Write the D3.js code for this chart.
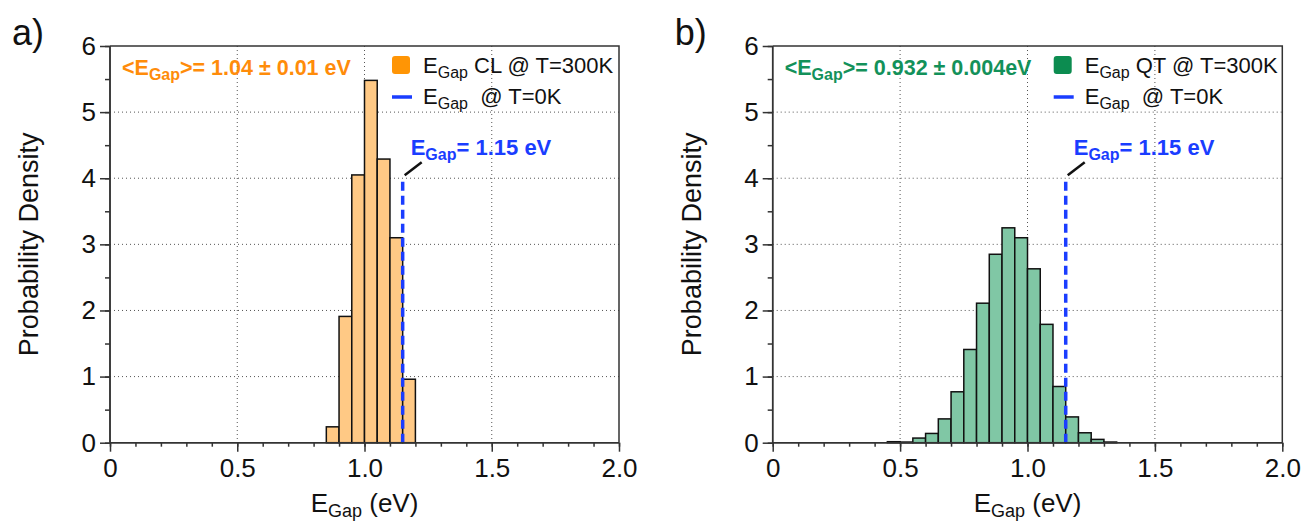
<!DOCTYPE html>
<html><head><meta charset="utf-8">
<script src="https://cdn.jsdelivr.net/npm/d3@7"></script>
<style>
body{margin:0;background:#fff;}
text{font-family:"Liberation Sans",Arial,sans-serif;}
</style></head>
<body><svg id="c" width="1304" height="523"></svg>
<script>
// ---- data ----
const binWidth = 0.05;
const clBins = [0.85, 0.90, 0.95, 1.00, 1.05, 1.10, 1.15];
const clDensity = [0.24, 1.91, 4.05, 5.48, 4.29, 3.10, 0.96];
const qtBins = [0.45, 0.50, 0.55, 0.60, 0.65, 0.70, 0.75, 0.80, 0.85, 0.90, 0.95, 1.00, 1.05, 1.10, 1.15, 1.20, 1.25, 1.30];
const qtDensity = [0.015, 0.01, 0.07, 0.14, 0.36, 0.77, 1.41, 2.11, 2.85, 3.25, 3.10, 2.63, 1.79, 0.85, 0.39, 0.15, 0.05, 0.01];
const gap0K = 1.15;
const gapLineTop = 4.0;
const xTicks = [0, 0.5, 1.0, 1.5, 2.0];
const xTickLabels = ["0", "0.5", "1.0", "1.5", "2.0"];
const yTicks = [0, 1, 2, 3, 4, 5, 6];
const yTickLabels = ["0", "1", "2", "3", "4", "5", "6"];
const panels = [
  {label:"a)", bins:clBins, dens:clDensity, fill:"#ffc985", key:"#ff9505", txt:"#ff8c0a",
   mean:">= 1.04 ± 0.01 eV", leg:" CL @ T=300K", x0:110, x1:619},
  {label:"b)", bins:qtBins, dens:qtDensity, fill:"#80c7a5", key:"#0c8c50", txt:"#13915a",
   mean:">= 0.932 ± 0.004eV", leg:" QT @ T=300K", x0:772.7, x1:1282.3}
];
const blue = "#1a3dff";

const svg = d3.select("#c");
const yTop = 46, yBot = 442.7;

panels.forEach((p, pi) => {
  const x = d3.scaleLinear().domain([0, 2]).range([p.x0, p.x1]);
  const y = d3.scaleLinear().domain([0, 6]).range([yBot, yTop]);
  const g = svg.append("g");

  // grid
  [0.5, 1.0, 1.5].forEach(v => g.append("line").attr("x1", x(v)).attr("x2", x(v)).attr("y1", yTop).attr("y2", yBot)
    .attr("stroke", "#555").attr("stroke-width", 1).attr("stroke-dasharray", "1,3"));
  [1, 2, 3, 4, 5].forEach(v => g.append("line").attr("x1", p.x0).attr("x2", p.x1).attr("y1", y(v)).attr("y2", y(v))
    .attr("stroke", "#555").attr("stroke-width", 1).attr("stroke-dasharray", "1,3"));

  // bars
  g.selectAll("rect.bar").data(p.bins.map((b, i) => ({b, d: p.dens[i]}))).join("rect")
    .attr("class", "bar")
    .attr("x", d => x(d.b)).attr("width", d => x(d.b + binWidth) - x(d.b))
    .attr("y", d => y(d.d)).attr("height", d => y(0) - y(d.d))
    .attr("fill", p.fill).attr("stroke", "#111").attr("stroke-width", 1.5);

  // dashed line at T=0K gap
  g.append("line").attr("x1", x(gap0K)).attr("x2", x(gap0K)).attr("y1", y(0)).attr("y2", y(gapLineTop))
    .attr("stroke", blue).attr("stroke-width", 3.5).attr("stroke-dasharray", "9,5");
  // leader line
  g.append("line").attr("x1", x(gap0K) + 2).attr("y1", y(gapLineTop) - 3).attr("x2", x(gap0K) + 19).attr("y2", y(gapLineTop) - 16)
    .attr("stroke", "#111").attr("stroke-width", 2.5);
  const t = g.append("text").attr("x", x(gap0K) + 8).attr("y", 155).attr("fill", blue)
    .attr("font-weight", "bold").attr("font-size", 22);
  t.append("tspan").text("E");
  t.append("tspan").attr("font-size", 16).attr("dy", 5).text("Gap");
  t.append("tspan").attr("dy", -5).text("= 1.15 eV");

  // axes
  const xAxis = d3.axisBottom(x).tickValues(xTicks).tickFormat((d, i) => xTickLabels[i]).tickSize(9).tickPadding(7);
  const xMinor = d3.axisBottom(x).tickValues(d3.range(0, 21).map(i => i / 10)).tickFormat("").tickSize(4);
  const yAxis = d3.axisLeft(y).tickValues(yTicks).tickFormat((d, i) => yTickLabels[i]).tickSize(10).tickPadding(4);
  const yMinor = d3.axisLeft(y).tickValues(d3.range(0, 13).map(i => i / 2)).tickFormat("").tickSize(5);

  [xMinor, xAxis].forEach(a => {
    const ag = g.append("g").attr("transform", `translate(0,${yBot})`).call(a);
    ag.selectAll("path,line").attr("stroke", "#333").attr("stroke-width", 1.5);
    ag.select(".domain").attr("d", `M${p.x0},0H${p.x1}`);
    ag.selectAll("text").attr("font-size", 26).attr("fill", "#111").attr("font-family", "Liberation Sans,Arial");
  });
  [yMinor, yAxis].forEach(a => {
    const ag = g.append("g").attr("transform", `translate(${p.x0},0)`).call(a);
    ag.selectAll("path,line").attr("stroke", "#333").attr("stroke-width", 1.5);
    ag.select(".domain").attr("d", `M0,${yBot}V${yTop}`);
    ag.selectAll("text").attr("font-size", 26).attr("fill", "#111").attr("font-family", "Liberation Sans,Arial");
  });
  // top/right frame
  g.append("path").attr("d", `M${p.x0},${yTop}H${p.x1}V${yBot}`).attr("fill", "none").attr("stroke", "#333").attr("stroke-width", 1.5);

  // axis titles
  const xt = g.append("text").attr("x", (p.x0 + p.x1) / 2).attr("y", 512).attr("text-anchor", "middle")
    .attr("font-size", 26).attr("fill", "#111");
  xt.append("tspan").text("E");
  xt.append("tspan").attr("font-size", 18).attr("dy", 5).text("Gap");
  xt.append("tspan").attr("dy", -5).text(" (eV)");
  g.append("text").attr("transform", `translate(${p.x0 - 72},${(yTop + yBot) / 2}) rotate(-90)`)
    .attr("text-anchor", "middle").attr("font-size", 27).attr("fill", "#111").text("Probability Density");

  // panel label
  g.append("text").attr("x", p.x0 - 98).attr("y", 45).attr("font-size", 36).attr("fill", "#111").text(p.label);

  // mean text
  const mt = g.append("text").attr("x", p.x0 + 12).attr("y", 75).attr("fill", p.txt)
    .attr("font-weight", "bold").attr("font-size", 21.5);
  mt.append("tspan").text("<E");
  mt.append("tspan").attr("font-size", 16).attr("dy", 5).text("Gap");
  mt.append("tspan").attr("dy", -5).text(p.mean);

  // legend
  const lx = p.x0 + (pi === 0 ? 282 : 281);
  g.append("rect").attr("x", lx).attr("y", 56).attr("width", 18).attr("height", 18).attr("rx", 3).attr("fill", p.key);
  const l1 = g.append("text").attr("x", lx + 31).attr("y", 73).attr("font-size", 22).attr("fill", "#111");
  l1.append("tspan").text("E");
  l1.append("tspan").attr("font-size", 16).attr("dy", 5).text("Gap");
  l1.append("tspan").attr("dy", -5).text(p.leg);
  g.append("line").attr("x1", lx).attr("x2", lx + 20).attr("y1", 97).attr("y2", 97).attr("stroke", blue).attr("stroke-width", 3.5);
  const l2 = g.append("text").attr("x", lx + 31).attr("y", 104).attr("font-size", 22).attr("fill", "#111");
  l2.append("tspan").text("E");
  l2.append("tspan").attr("font-size", 16).attr("dy", 5).text("Gap");
  l2.append("tspan").attr("dy", -5).text("  @ T=0K").attr("xml:space", "preserve");
});
</script></body></html>
